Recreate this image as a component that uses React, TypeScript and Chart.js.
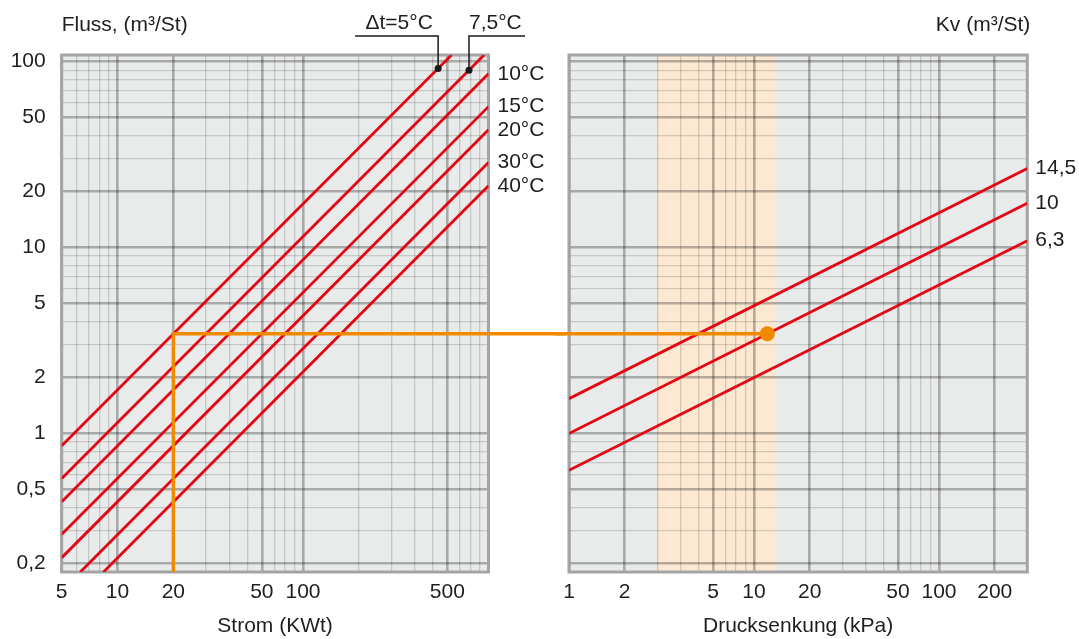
import React, { useEffect, useRef } from 'react';
import { Chart, registerables } from 'chart.js';

Chart.register(...registerables);

const FONT_FAMILY = '"Liberation Sans", Arial, Helvetica, sans-serif';
const FONT_SIZE = 21;
const TEXT = '#1e1e1e';
const RED = '#e30613';
const ORANGE = '#f18a00';
const PLOT_BG = '#e9eaea';
const SHADE = '#fde8d2';
const FRAME = '#a4a4a4';

// ---- axes (shared flow axis) ----
const yMin = 0.18;
const yMax = 108.6;
const yGrid = [0.2, 0.3, 0.4, 0.5, 0.6, 0.7, 0.8, 0.9, 1, 2, 3, 4, 5, 6, 7, 8, 9, 10, 20, 30, 40, 50, 60, 70, 80, 90, 100];
const yTicks = [0.2, 0.5, 1, 2, 5, 10, 20, 50, 100];
const yTickLabels = ['0,2', '0,5', '1', '2', '5', '10', '20', '50', '100'];

// left panel: Strom (KWt)
const powerMin = 5;
const powerMax = 1000;
const powerGrid = [5, 6, 7, 8, 9, 10, 20, 30, 40, 50, 60, 70, 80, 90, 100, 200, 300, 400, 500, 600, 700, 800, 900];
const powerTicks = [5, 10, 20, 60, 100, 600];
const powerTickLabels = ['5', '10', '20', '50', '100', '500'];

// right panel: Drucksenkung (kPa)
const dropMin = 1;
const dropMax = 300;
const dropGrid = [1, 2, 3, 4, 5, 6, 7, 8, 9, 10, 20, 30, 40, 50, 60, 70, 80, 90, 100, 200];
const dropTicks = [1, 2, 6, 10, 20, 60, 100, 200];
const dropTickLabels = ['1', '2', '5', '10', '20', '50', '100', '200'];
const shadeDrop = [3, 13];

// ---- left series: Δt lines ----
const deltaLabels = ['', '', '10°C', '15°C', '20°C', '30°C', '40°C'];
const powerStart = [5, 5, 5, 5, 5, 6.3, 8.4];
const flowStart = [0.86, 0.573, 0.43, 0.287, 0.215, 0.18, 0.18];
const powerEnd = [632, 947, 1000, 1000, 1000, 1000, 1000];
const flowEnd = [108.6, 108.6, 86, 57.3, 43, 28.7, 21.5];

// callouts on the Δt lines
const calloutText = ['Δt=5°C', '7,5°C'];
const calloutPower = [535, 785];
const calloutFlow = [92, 90];

// ---- right series: Kv lines ----
const kvLabels = ['14,5', '10', '6,3'];
const dropStart = [1, 1, 1];
const kvFlowStart = [1.54, 1.0, 0.635];
const dropEnd = [300, 300, 300];
const kvFlowEnd = [26.6, 17.3, 10.9];

// ---- worked example (orange) ----
const examplePower = 20;
const exampleFlow = 3.44;
const exampleDrop = 11.8;

function logAxis(min: number, max: number, grid: number[], ticks: number[], labels: string[], opts: any) {
  return {
    type: 'logarithmic',
    position: opts.position,
    min,
    max,
    afterBuildTicks: (s: any) => {
      s.ticks = grid.map((v) => ({ value: v, major: ticks.includes(v) }));
    },
    afterFit: (s: any) => {
      if (opts.position === 'left') s.width = opts.size;
      else s.height = opts.size;
    },
    grid: {
      drawTicks: false,
      color: (c: any) => (c.tick && c.tick.major ? 'rgba(0,0,0,0.28)' : 'rgba(0,0,0,0.15)'),
      lineWidth: (c: any) => (c.tick && c.tick.major ? 2.6 : 1.3),
    },
    border: { display: false },
    ticks: {
      display: opts.showLabels,
      autoSkip: false,
      maxRotation: 0,
      minRotation: 0,
      padding: opts.padding,
      color: TEXT,
      font: { family: FONT_FAMILY, size: FONT_SIZE },
      callback: (v: any) => {
        const i = ticks.indexOf(v);
        return i >= 0 ? labels[i] : '';
      },
    },
    title: opts.title
      ? { display: true, text: opts.title, color: TEXT, font: { family: FONT_FAMILY, size: FONT_SIZE }, padding: { top: 0, bottom: 0 } }
      : { display: false },
  };
}

function backgroundPlugin(shade: number[] | null) {
  return {
    id: 'panelBackground',
    beforeDraw(chart: any) {
      const { ctx, chartArea: a, scales } = chart;
      ctx.save();
      ctx.fillStyle = PLOT_BG;
      ctx.fillRect(a.left, a.top, a.right - a.left, a.bottom - a.top);
      if (shade) {
        const x0 = scales.x.getPixelForValue(shade[0]);
        const x1 = scales.x.getPixelForValue(shade[1]);
        ctx.fillStyle = SHADE;
        ctx.fillRect(x0, a.top, x1 - x0, a.bottom - a.top);
      }
      ctx.restore();
    },
    beforeDatasetsDraw(chart: any) {
      const { ctx, chartArea: a } = chart;
      ctx.save();
      ctx.strokeStyle = FRAME;
      ctx.lineWidth = 3;
      ctx.strokeRect(a.left, a.top, a.right - a.left, a.bottom - a.top);
      ctx.restore();
    },
  };
}

const leftTextPlugin = {
  id: 'leftText',
  afterDraw(chart: any) {
    const { ctx, chartArea: a, scales } = chart;
    const x = scales.x;
    const y = scales.y;
    ctx.save();
    // orange connector across the gap to the right panel
    const oy = y.getPixelForValue(exampleFlow);
    ctx.strokeStyle = ORANGE;
    ctx.lineWidth = 3.5;
    ctx.beginPath();
    ctx.moveTo(a.right, oy);
    ctx.lineTo(chart.width, oy);
    ctx.stroke();

    ctx.font = `${FONT_SIZE}px ${FONT_FAMILY}`;
    ctx.fillStyle = TEXT;
    ctx.textBaseline = 'middle';
    ctx.textAlign = 'left';
    ctx.fillText('Fluss, (m³/St)', a.left, a.top - 30);

    deltaLabels.forEach((lab, i) => {
      if (!lab) return;
      ctx.fillText(lab, a.right + 9, y.getPixelForValue(flowEnd[i]));
    });

    const lineY = a.top - 19;
    ctx.strokeStyle = '#1a1a1a';
    ctx.lineWidth = 1.5;
    calloutText.forEach((t, i) => {
      const px = x.getPixelForValue(calloutPower[i]);
      const py = y.getPixelForValue(calloutFlow[i]);
      ctx.beginPath();
      ctx.moveTo(px, py);
      ctx.lineTo(px, lineY);
      if (i === 0) {
        ctx.lineTo(px - 83, lineY);
        ctx.stroke();
        ctx.textAlign = 'center';
        ctx.fillText(t, px - 39, lineY - 13);
      } else {
        ctx.lineTo(px + 56, lineY);
        ctx.stroke();
        ctx.textAlign = 'left';
        ctx.fillText(t, px, lineY - 13);
      }
    });
    ctx.restore();
  },
};

const rightTextPlugin = {
  id: 'rightText',
  afterDraw(chart: any) {
    const { ctx, chartArea: a, scales } = chart;
    const y = scales.y;
    ctx.save();
    const oy = y.getPixelForValue(exampleFlow);
    ctx.strokeStyle = ORANGE;
    ctx.lineWidth = 3.5;
    ctx.beginPath();
    ctx.moveTo(0, oy);
    ctx.lineTo(a.left, oy);
    ctx.stroke();

    ctx.font = `${FONT_SIZE}px ${FONT_FAMILY}`;
    ctx.fillStyle = TEXT;
    ctx.textBaseline = 'middle';
    ctx.textAlign = 'right';
    ctx.fillText('Kv (m³/St)', a.right + 3, a.top - 30);
    ctx.textAlign = 'left';
    kvLabels.forEach((lab, i) => {
      ctx.fillText(lab, a.right + 8, y.getPixelForValue(kvFlowEnd[i]));
    });
    ctx.restore();
  },
};

function leftConfig(): any {
  const redSets = deltaLabels.map((_, i) => ({
    data: [
      { x: powerStart[i], y: flowStart[i] },
      { x: powerEnd[i], y: flowEnd[i] },
    ],
    borderColor: RED,
    borderWidth: 2.8,
    pointRadius: 0,
    tension: 0,
    clip: 0,
  }));
  return {
    type: 'line',
    data: {
      datasets: [
        {
          data: [
            { x: examplePower, y: yMin },
            { x: examplePower, y: exampleFlow },
            { x: powerMax, y: exampleFlow },
          ],
          borderColor: ORANGE,
          borderWidth: 3.5,
          pointRadius: 0,
          tension: 0,
        },
        {
          data: calloutPower.map((p, i) => ({ x: p, y: calloutFlow[i] })),
          showLine: false,
          pointRadius: 3.5,
          pointBackgroundColor: '#1a1a1a',
          pointBorderWidth: 0,
          borderColor: '#1a1a1a',
        },
        ...redSets,
      ],
    },
    options: {
      animation: false,
      responsive: false,
      devicePixelRatio: 1,
      layout: { padding: { left: 0, top: 55, right: 76.5, bottom: 0 } },
      plugins: { legend: { display: false }, tooltip: { enabled: false }, title: { display: false } },
      events: [],
      scales: {
        x: logAxis(powerMin, powerMax, powerGrid, powerTicks, powerTickLabels, {
          position: 'bottom', size: 67, showLabels: true, padding: 8, title: 'Strom (KWt)',
        }),
        y: logAxis(yMin, yMax, yGrid, yTicks, yTickLabels, {
          position: 'left', size: 61.7, showLabels: true, padding: 16,
        }),
      },
    },
    plugins: [backgroundPlugin(null), leftTextPlugin],
  };
}

function rightConfig(): any {
  const redSets = kvLabels.map((_, i) => ({
    data: [
      { x: dropStart[i], y: kvFlowStart[i] },
      { x: dropEnd[i], y: kvFlowEnd[i] },
    ],
    borderColor: RED,
    borderWidth: 2.8,
    pointRadius: 0,
    tension: 0,
    clip: 0,
  }));
  return {
    type: 'line',
    data: {
      datasets: [
        {
          data: [
            { x: dropMin, y: exampleFlow },
            { x: exampleDrop, y: exampleFlow },
          ],
          borderColor: ORANGE,
          borderWidth: 3.5,
          pointRadius: [0, 7.5],
          pointBackgroundColor: ORANGE,
          pointBorderWidth: 0,
          tension: 0,
          clip: false,
        },
        ...redSets,
      ],
    },
    options: {
      animation: false,
      responsive: false,
      devicePixelRatio: 1,
      layout: { padding: { left: 0, top: 55, right: 51.7, bottom: 0 } },
      plugins: { legend: { display: false }, tooltip: { enabled: false }, title: { display: false } },
      events: [],
      scales: {
        x: logAxis(dropMin, dropMax, dropGrid, dropTicks, dropTickLabels, {
          position: 'bottom', size: 67, showLabels: true, padding: 8, title: 'Drucksenkung (kPa)',
        }),
        y: logAxis(yMin, yMax, yGrid, yTicks, yTickLabels, {
          position: 'left', size: 14, showLabels: false, padding: 0,
        }),
      },
    },
    plugins: [backgroundPlugin(shadeDrop), rightTextPlugin],
  };
}

export default function App() {
  const leftRef = useRef<HTMLCanvasElement>(null);
  const rightRef = useRef<HTMLCanvasElement>(null);
  useEffect(() => {
    const left = new Chart(leftRef.current as HTMLCanvasElement, leftConfig());
    const right = new Chart(rightRef.current as HTMLCanvasElement, rightConfig());
    return () => {
      left.destroy();
      right.destroy();
    };
  }, []);
  return (
    <div style={{ position: 'fixed', left: 0, top: 0, width: 1079, height: 639, background: '#ffffff' }}>
      <canvas
        ref={leftRef}
        width={565}
        height={639}
        style={{ position: 'absolute', left: 0, top: 0, width: 565, height: 639 }}
      />
      <canvas
        ref={rightRef}
        width={524}
        height={639}
        style={{ position: 'absolute', left: 555, top: 0, width: 524, height: 639 }}
      />
    </div>
  );
}
